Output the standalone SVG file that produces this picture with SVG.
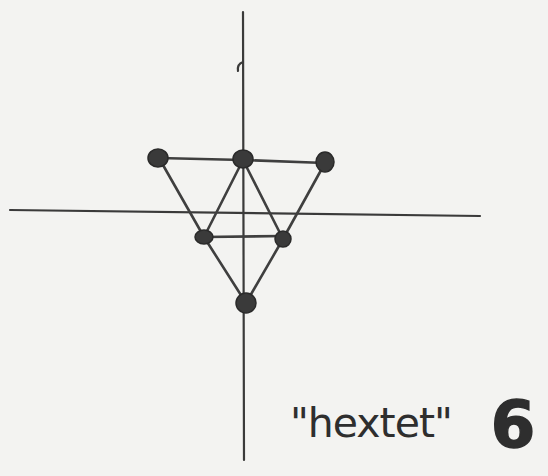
<svg xmlns="http://www.w3.org/2000/svg" width="548" height="476" viewBox="0 0 548 476">
<style>
.ax{stroke:#3a3a3a;stroke-width:2.2;fill:none;stroke-linecap:round}
.ed{stroke:#3f3f3f;stroke-width:2.6;fill:none;stroke-linecap:round}
.nd{fill:#3a3a3a;stroke:#2a2a2a;stroke-width:1.5}
.lbl{font-family:"DejaVu Sans",sans-serif;fill:#2e2e2e}
</style>
<rect width="548" height="476" fill="#f3f3f1"/>
<g id="axes">
<path class="ax" d="M243,12 L244,460"/>
<path class="ax" d="M243,62 Q237,64 238,71"/>
<path class="ax" d="M10,210 L480,216"/>
</g>
<g id="connectors">
<path class="ed" d="M159,158 L243,160"/>
<path class="ed" d="M243,160 L325,163"/>
<path class="ed" d="M159,158 L204,237 L246,303"/>
<path class="ed" d="M325,163 L283,239 L246,303"/>
<path class="ed" d="M243,160 L204,237"/>
<path class="ed" d="M243,160 L283,239"/>
<path class="ed" d="M204,237 L283,236"/>
</g>
<g id="n1"><ellipse class="nd" cx="158" cy="158" rx="10" ry="9"/></g>
<g id="n2"><ellipse class="nd" cx="243" cy="159" rx="10" ry="9"/></g>
<g id="n3"><ellipse class="nd" cx="325" cy="162" rx="9" ry="10"/></g>
<g id="n4"><ellipse class="nd" cx="204" cy="237" rx="9" ry="7"/></g>
<g id="n5"><ellipse class="nd" cx="283" cy="239" rx="8" ry="8"/></g>
<g id="n6"><ellipse class="nd" cx="246" cy="303" rx="10" ry="10"/></g>
<g id="label">
<text class="lbl" x="290" y="437" font-size="41" letter-spacing="-1">"hextet"</text>
<text class="lbl" x="513" y="447" font-size="64" font-weight="bold" text-anchor="middle" stroke="#2e2e2e" stroke-width="1.5">6</text>
</g>
</svg>
